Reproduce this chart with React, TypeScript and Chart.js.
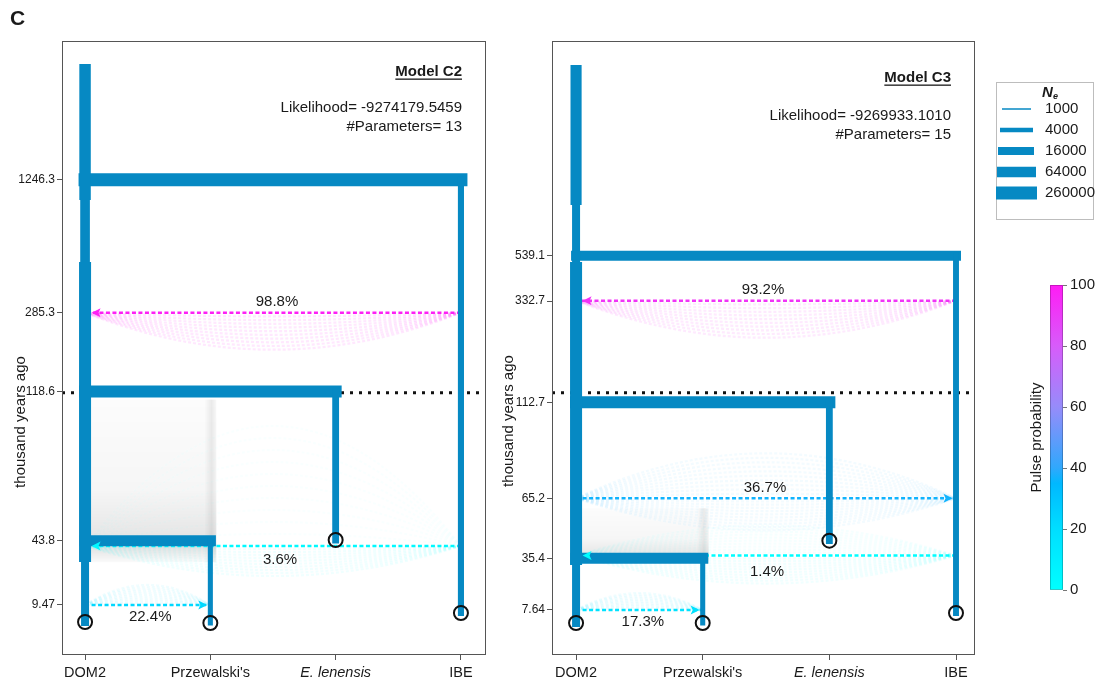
import React, { useEffect, useRef } from "react";
import { Chart, registerables } from "chart.js";
Chart.register(...registerables);

const FONT = "'Liberation Sans', Arial, Helvetica, sans-serif";
Chart.defaults.font.family = FONT;
const TREE_BLUE = "#0689c3";
const TEXT = "#1a1a1a";

// ---------------- shared data ----------------
const LINEAGES = ["DOM2", "Przewalski's", "E. lenensis", "IBE"];
const NE_LEGEND = [1000, 4000, 16000, 64000, 260000];
const PULSE_TICKS = [0, 20, 40, 60, 80, 100];

// ---------------- Model C2 ----------------
const C2_LIKELIHOOD = "-9274179.5459";
const C2_PARAMS = 13;
const C2_TIMES = [1246.3, 285.3, 118.6, 43.8, 9.47]; // thousand years ago (tick labels)
const C2_TIME_LEVELS = [77.4, 55.75, 42.9, 18.6, 8.15]; // schematic heights on the tree axis (0-100)
const C2_SPLIT_CHILD = [3, 2, 1]; // lineage that joins DOM2
const C2_SPLIT_TIME_IDX = [0, 2, 3];
const C2_SPLIT_NE = [260000, 150000, 90000];
const C2_TIP_LEVELS = [5.37, 5.21, 18.73, 6.84];
const C2_BRANCH_NE = [16000, 5000, 10000, 7500];
const C2_DOM2_EPOCH_LEVELS = [96.25, 74.1, 64.0, 15.15];
const C2_DOM2_EPOCH_NE = [110000, 40000, 150000, 16000];
const C2_PULSE_PCT = [98.8, 3.6, 22.4];
const C2_PULSE_FROM = [3, 3, 0];
const C2_PULSE_TO = [0, 0, 1];
const C2_PULSE_LEVELS = [55.75, 17.75, 8.15];
const C2_REF_LEVEL = 42.7;

// ---------------- Model C3 ----------------
const C3_LIKELIHOOD = "-9269933.1010";
const C3_PARAMS = 15;
const C3_TIMES = [539.1, 332.7, 112.7, 65.2, 35.4, 7.64];
const C3_TIME_LEVELS = [65.03, 57.65, 41.16, 25.52, 15.75, 7.33];
const C3_SPLIT_CHILD = [3, 2, 1];
const C3_SPLIT_TIME_IDX = [0, 2, 4];
const C3_SPLIT_NE = [48000, 150000, 90000];
const C3_TIP_LEVELS = [5.21, 5.21, 18.62, 6.84];
const C3_BRANCH_NE = [16000, 5000, 10000, 7000];
const C3_DOM2_EPOCH_LEVELS = [96.09, 73.29, 64.01, 14.66];
const C3_DOM2_EPOCH_NE = [90000, 16000, 150000, 16000];
const C3_PULSE_PCT = [93.2, 36.7, 1.4, 17.3];
const C3_PULSE_FROM = [3, 0, 3, 0];
const C3_PULSE_TO = [0, 3, 0, 1];
const C3_PULSE_LEVELS = [57.7, 25.52, 16.2, 7.33];
const C3_REF_LEVEL = 42.72;

// ---------------- styles ----------------
const NE_WIDTH = [1.5, 4.5, 8, 10.5, 13];
const CMAP_STOPS = [0, 20, 35, 40, 60, 80, 100];
const CMAP_RGB = [
  [0, 255, 255],
  [0, 222, 255],
  [0, 184, 255],
  [48, 168, 252],
  [150, 140, 250],
  [215, 92, 250],
  [255, 28, 245],
];

type Model = {
  name: string;
  likelihood: string;
  params: number;
  times: number[];
  timeLevels: number[];
  splitChild: number[];
  splitTimeIdx: number[];
  splitNe: number[];
  tipLevels: number[];
  branchNe: number[];
  domEpochLevels: number[];
  domEpochNe: number[];
  pulsePct: number[];
  pulseFrom: number[];
  pulseTo: number[];
  pulseLevels: number[];
  refLevel: number;
};

const C2: Model = {
  name: "Model C2",
  likelihood: C2_LIKELIHOOD,
  params: C2_PARAMS,
  times: C2_TIMES,
  timeLevels: C2_TIME_LEVELS,
  splitChild: C2_SPLIT_CHILD,
  splitTimeIdx: C2_SPLIT_TIME_IDX,
  splitNe: C2_SPLIT_NE,
  tipLevels: C2_TIP_LEVELS,
  branchNe: C2_BRANCH_NE,
  domEpochLevels: C2_DOM2_EPOCH_LEVELS,
  domEpochNe: C2_DOM2_EPOCH_NE,
  pulsePct: C2_PULSE_PCT,
  pulseFrom: C2_PULSE_FROM,
  pulseTo: C2_PULSE_TO,
  pulseLevels: C2_PULSE_LEVELS,
  refLevel: C2_REF_LEVEL,
};

const C3: Model = {
  name: "Model C3",
  likelihood: C3_LIKELIHOOD,
  params: C3_PARAMS,
  times: C3_TIMES,
  timeLevels: C3_TIME_LEVELS,
  splitChild: C3_SPLIT_CHILD,
  splitTimeIdx: C3_SPLIT_TIME_IDX,
  splitNe: C3_SPLIT_NE,
  tipLevels: C3_TIP_LEVELS,
  branchNe: C3_BRANCH_NE,
  domEpochLevels: C3_DOM2_EPOCH_LEVELS,
  domEpochNe: C3_DOM2_EPOCH_NE,
  pulsePct: C3_PULSE_PCT,
  pulseFrom: C3_PULSE_FROM,
  pulseTo: C3_PULSE_TO,
  pulseLevels: C3_PULSE_LEVELS,
  refLevel: C3_REF_LEVEL,
};

type PulseStyle = { dx: number; dy: number; up: number; down: number; alpha: number; upAlpha: number };
type ModelStyle = {
  xMin: number;
  xMax: number;
  padRight: number;
  header: number[];
  axisTitle: number[];
  shadow: { top: number; bottom: number };
  pulses: PulseStyle[];
  letter: boolean;
};

const C2_STYLE: ModelStyle = {
  xMin: -0.184,
  xMax: 3.2,
  padRight: 4,
  header: [31, 67, 86],
  axisTitle: [21, 422],
  shadow: { top: 41.6, bottom: 15.1 },
  pulses: [
    { dx: 4, dy: -11, up: 0, down: 37, alpha: 0.1, upAlpha: 0 },
    { dx: 7, dy: 14, up: 120, down: 30, alpha: 0.06, upAlpha: 0.025 },
    { dx: 2.5, dy: 12, up: 20, down: 0, alpha: 0.06, upAlpha: 0.06 },
  ],
  letter: true,
};

const C3_STYLE: ModelStyle = {
  xMin: -0.19,
  xMax: 3.15,
  padRight: 5,
  header: [37, 75, 93.5],
  axisTitle: [19, 421],
  shadow: { top: 23.9, bottom: 14.9 },
  pulses: [
    { dx: -3, dy: -11, up: 0, down: 37, alpha: 0.1, upAlpha: 0 },
    { dx: -1, dy: -10, up: 45, down: 32, alpha: 0.05, upAlpha: 0.05 },
    { dx: 1, dy: 16, up: 30, down: 28, alpha: 0.06, upAlpha: 0.04 },
    { dx: 3.5, dy: 12, up: 17, down: 0, alpha: 0.06, upAlpha: 0.06 },
  ],
  letter: false,
};

// ---------------- helpers ----------------
function neWidth(ne: number): number {
  const l = Math.log(ne);
  const ls = NE_LEGEND.map((v) => Math.log(v));
  if (l <= ls[0]) return NE_WIDTH[0];
  for (let i = 0; i < ls.length - 1; i++) {
    if (l <= ls[i + 1]) {
      return NE_WIDTH[i] + ((NE_WIDTH[i + 1] - NE_WIDTH[i]) * (l - ls[i])) / (ls[i + 1] - ls[i]);
    }
  }
  return NE_WIDTH[NE_WIDTH.length - 1];
}

function pulseRGB(p: number): number[] {
  for (let i = 0; i < CMAP_STOPS.length - 1; i++) {
    if (p <= CMAP_STOPS[i + 1]) {
      const t = (p - CMAP_STOPS[i]) / (CMAP_STOPS[i + 1] - CMAP_STOPS[i]);
      return CMAP_RGB[i].map((c, k) => Math.round(c + (CMAP_RGB[i + 1][k] - c) * t));
    }
  }
  return CMAP_RGB[CMAP_RGB.length - 1];
}
const rgba = (c: number[], a = 1) => `rgba(${c[0]},${c[1]},${c[2]},${a})`;

function lineageWidthAt(m: Model, lineage: number, level: number): number {
  if (lineage !== 0) return neWidth(m.branchNe[lineage]);
  let w = neWidth(m.domEpochNe[0]);
  m.domEpochLevels.forEach((top, k) => {
    if (level <= top) w = neWidth(m.domEpochNe[k]);
  });
  return w;
}

function seg(x1: number, y1: number, x2: number, y2: number, w: number, cap: string) {
  return {
    data: [
      { x: x1, y: y1 },
      { x: x2, y: y2 },
    ],
    borderColor: TREE_BLUE,
    backgroundColor: TREE_BLUE,
    borderWidth: w,
    borderCapStyle: cap,
    pointRadius: 0,
    pointHoverRadius: 0,
    order: 2,
  };
}

function buildModelConfig(m: Model, st: ModelStyle): any {
  const ds: any[] = [];
  // tips
  ds.push({
    data: m.tipLevels.map((l, i) => ({ x: i, y: l })),
    showLine: false,
    pointRadius: 7,
    pointHoverRadius: 7,
    pointBorderWidth: 2,
    pointBorderColor: "#111",
    pointBackgroundColor: "rgba(0,0,0,0)",
    order: 0,
  });
  // DOM2 epochs
  const nE = m.domEpochLevels.length;
  m.domEpochLevels.forEach((top, k) => {
    const bot = k + 1 < nE ? m.domEpochLevels[k + 1] : m.tipLevels[0];
    ds.push(seg(0, top, 0, bot, neWidth(m.domEpochNe[k]), k === nE - 1 ? "square" : "butt"));
  });
  // child branches + joins
  m.splitChild.forEach((c, j) => {
    const lvl = m.timeLevels[m.splitTimeIdx[j]];
    ds.push(seg(c, lvl, c, m.tipLevels[c], neWidth(m.branchNe[c]), "square"));
    ds.push(seg(0, lvl, c, lvl, neWidth(m.splitNe[j]), "square"));
  });
  // pulses
  m.pulsePct.forEach((p, i) => {
    ds.push({
      data: [
        { x: m.pulseFrom[i], y: m.pulseLevels[i] },
        { x: m.pulseTo[i], y: m.pulseLevels[i] },
      ],
      borderColor: rgba(pulseRGB(p)),
      borderWidth: 2.5,
      borderDash: [4, 2.5],
      pointRadius: 0,
      pointHoverRadius: 0,
      order: 3,
    });
  });
  // reference dotted line
  ds.push({
    data: [
      { x: st.xMin, y: m.refLevel },
      { x: st.xMax, y: m.refLevel },
    ],
    borderColor: "#111",
    borderWidth: 3,
    borderDash: [3, 6],
    pointRadius: 0,
    pointHoverRadius: 0,
    order: 4,
  });

  const fin = (v: number) => Number.isFinite(v);

  const decor = {
    id: "modelDecor",
    beforeDatasetsDraw(chart: any) {
      const { ctx, chartArea: ca } = chart;
      const x = chart.scales.x;
      const y = chart.scales.y;
      ctx.save();
      ctx.beginPath();
      ctx.rect(ca.left, ca.top, ca.width, ca.height);
      ctx.clip();
      // gray shadow between DOM2 and Przewalski's
      const sx0 = x.getPixelForValue(0) + 6;
      const sx1 = x.getPixelForValue(1) + 6;
      const sy0 = y.getPixelForValue(st.shadow.top);
      const sy1 = y.getPixelForValue(st.shadow.bottom);
      if ([sx0, sx1, sy0, sy1].every(fin)) {
        const g = ctx.createLinearGradient(0, sy0, 0, sy1);
        g.addColorStop(0, "rgba(0,0,0,0.012)");
        g.addColorStop(0.55, "rgba(0,0,0,0.035)");
        g.addColorStop(0.8, "rgba(0,0,0,0.09)");
        g.addColorStop(0.9, "rgba(0,0,0,0.12)");
        g.addColorStop(1, "rgba(0,0,0,0.02)");
        ctx.fillStyle = g;
        ctx.fillRect(sx0, sy0, sx1 - sx0, sy1 - sy0);
        const g2 = ctx.createLinearGradient(sx1 - 12, 0, sx1, 0);
        g2.addColorStop(0, "rgba(0,0,0,0)");
        g2.addColorStop(0.6, "rgba(0,0,0,0.07)");
        g2.addColorStop(1, "rgba(0,0,0,0.01)");
        ctx.fillStyle = g2;
        ctx.fillRect(sx1 - 12, sy0, 12, sy1 - sy0);
      }
      // uncertainty fans
      m.pulsePct.forEach((p, i) => {
        const ps = st.pulses[i];
        const c = pulseRGB(p);
        const xa = x.getPixelForValue(m.pulseFrom[i]);
        const xb = x.getPixelForValue(m.pulseTo[i]);
        const yy = y.getPixelForValue(m.pulseLevels[i]);
        ctx.lineWidth = 2.2;
        ctx.setLineDash([3, 2]);
        const N = 10;
        [
          [ps.down, 1, ps.alpha],
          [ps.up, -1, ps.upAlpha],
        ].forEach(([s, dir, a]) => {
          if (!s || !a) return;
          ctx.strokeStyle = rgba(c, a);
          for (let k = 1; k <= N; k++) {
            const sag = (s * k) / N;
            ctx.beginPath();
            ctx.moveTo(xa, yy);
            ctx.quadraticCurveTo((xa + xb) / 2, yy + dir * 2 * sag, xb, yy);
            ctx.stroke();
          }
        });
      });
      ctx.restore();
    },
    afterDatasetsDraw(chart: any) {
      const { ctx } = chart;
      const x = chart.scales.x;
      const y = chart.scales.y;
      ctx.save();
      m.pulsePct.forEach((p, i) => {
        const ps = st.pulses[i];
        const c = pulseRGB(p);
        const xa = x.getPixelForValue(m.pulseFrom[i]);
        const xb = x.getPixelForValue(m.pulseTo[i]);
        const yy = y.getPixelForValue(m.pulseLevels[i]);
        const dir = Math.sign(xb - xa);
        const hw = lineageWidthAt(m, m.pulseTo[i], m.pulseLevels[i]) / 2;
        const tip = xb - dir * (hw + 0.5);
        ctx.fillStyle = rgba(c);
        ctx.beginPath();
        ctx.moveTo(tip, yy);
        ctx.lineTo(tip - dir * 9, yy - 4.5);
        ctx.lineTo(tip - dir * 7, yy);
        ctx.lineTo(tip - dir * 9, yy + 4.5);
        ctx.closePath();
        ctx.fill();
        ctx.fillStyle = TEXT;
        ctx.font = `15px ${FONT}`;
        ctx.textAlign = "center";
        ctx.textBaseline = "middle";
        ctx.fillText(`${p}%`, (xa + xb) / 2 + ps.dx, yy + ps.dy);
      });
      ctx.restore();
    },
    afterDraw(chart: any) {
      const { ctx, chartArea: ca } = chart;
      ctx.save();
      ctx.strokeStyle = "#555";
      ctx.lineWidth = 1;
      ctx.setLineDash([]);
      ctx.strokeRect(ca.left + 0.5, ca.top + 0.5, ca.width - 1, ca.height - 1);
      // header
      const rx = ca.right - 24;
      ctx.fillStyle = TEXT;
      ctx.textAlign = "right";
      ctx.textBaseline = "middle";
      ctx.font = `bold 15px ${FONT}`;
      ctx.fillText(m.name, rx, ca.top + st.header[0]);
      const w = ctx.measureText(m.name).width;
      ctx.fillRect(rx - w, ca.top + st.header[0] + 6.5, w, 1.3);
      ctx.font = `15px ${FONT}`;
      ctx.fillText(`Likelihood= ${m.likelihood}`, rx, ca.top + st.header[1]);
      ctx.fillText(`#Parameters= ${m.params}`, rx, ca.top + st.header[2]);
      // axis title
      ctx.save();
      ctx.translate(st.axisTitle[0], st.axisTitle[1]);
      ctx.rotate(-Math.PI / 2);
      ctx.textAlign = "center";
      ctx.font = `15px ${FONT}`;
      ctx.fillText("thousand years ago", 0, 0);
      ctx.restore();
      if (st.letter) {
        ctx.textAlign = "left";
        ctx.font = `bold 21px ${FONT}`;
        ctx.fillText("C", 10, 19);
      }
      ctx.restore();
    },
  };

  const labelFor = (v: number) => {
    const i = m.timeLevels.indexOf(v);
    return i >= 0 ? String(m.times[i]) : "";
  };

  return {
    type: "line",
    data: { datasets: ds },
    options: {
      responsive: false,
      animation: false,
      events: [],
      layout: { autoPadding: false, padding: { left: 0, right: st.padRight, top: 41, bottom: 0 } },
      plugins: { legend: { display: false }, tooltip: { enabled: false } },
      scales: {
        x: {
          type: "linear",
          min: st.xMin,
          max: st.xMax,
          afterBuildTicks: (s: any) => {
            s.ticks = LINEAGES.map((_, i) => ({ value: i }));
          },
          afterFit: (s: any) => {
            s.height = 35;
          },
          ticks: {
            autoSkip: false,
            maxRotation: 0,
            padding: 4,
            color: TEXT,
            callback: (v: any) => LINEAGES[Math.round(v)] ?? "",
            font: (c: any) => ({
              family: FONT,
              size: 14.5,
              style: c.index === 2 ? "italic" : "normal",
            }),
          },
          grid: { display: true, drawOnChartArea: false, drawTicks: true, tickLength: 5, color: "#555" },
          border: { display: false },
        },
        y: {
          type: "linear",
          min: 0,
          max: 100,
          afterBuildTicks: (s: any) => {
            s.ticks = m.timeLevels.map((v) => ({ value: v }));
          },
          afterFit: (s: any) => {
            s.width = 62;
          },
          ticks: {
            autoSkip: false,
            padding: 2,
            color: TEXT,
            font: { family: FONT, size: 12 },
            callback: (v: any) => labelFor(v),
          },
          grid: { display: true, drawOnChartArea: false, drawTicks: true, tickLength: 5, color: "#555" },
          border: { display: false },
        },
      },
    },
    plugins: [decor],
  };
}

function ModelChart({ m, st, left }: { m: Model; st: ModelStyle; left: number }) {
  const ref = useRef<HTMLCanvasElement>(null);
  useEffect(() => {
    const chart = new Chart(ref.current as HTMLCanvasElement, buildModelConfig(m, st));
    return () => chart.destroy();
  }, []);
  return (
    <canvas
      ref={ref}
      width={490}
      height={690}
      style={{ position: "absolute", left, top: 0, width: 490, height: 690 }}
    />
  );
}

function ColorbarChart() {
  const ref = useRef<HTMLCanvasElement>(null);
  useEffect(() => {
    const legendPlugin = {
      id: "neLegend",
      afterDraw(chart: any) {
        const { ctx, chartArea: ca } = chart;
        ctx.save();
        // colorbar outline
        ctx.strokeStyle = "rgba(0,0,0,0.22)";
        ctx.lineWidth = 1;
        ctx.strokeRect(ca.left + 0.5, ca.top + 0.5, ca.width - 1, ca.height - 1);
        // title
        ctx.fillStyle = TEXT;
        ctx.save();
        ctx.translate(57, (ca.top + ca.bottom) / 2);
        ctx.rotate(-Math.PI / 2);
        ctx.textAlign = "center";
        ctx.textBaseline = "middle";
        ctx.font = `15px ${FONT}`;
        ctx.fillText("Pulse probability", 0, 0);
        ctx.restore();
        // Ne legend box
        const bx = 16;
        const by = 82;
        ctx.strokeStyle = "#bdbdbd";
        ctx.strokeRect(bx + 0.5, by + 0.5, 97, 137);
        ctx.fillStyle = TEXT;
        ctx.font = `italic bold 15px ${FONT}`;
        ctx.textAlign = "left";
        ctx.textBaseline = "middle";
        ctx.fillText("N", 62, by + 11);
        ctx.font = `italic bold 9px ${FONT}`;
        ctx.fillText("e", 73, by + 15);
        const rowsY = [109, 130, 151, 172, 193];
        const lx0 = [22, 20, 18, 17, 16];
        const lx1 = [51, 53, 54, 56, 57];
        NE_LEGEND.forEach((ne, i) => {
          ctx.strokeStyle = TREE_BLUE;
          ctx.lineWidth = neWidth(ne);
          ctx.beginPath();
          ctx.moveTo(lx0[i], rowsY[i]);
          ctx.lineTo(lx1[i], rowsY[i]);
          ctx.stroke();
          ctx.fillStyle = TEXT;
          ctx.font = `15px ${FONT}`;
          ctx.fillText(String(ne), 65, rowsY[i]);
        });
        ctx.restore();
      },
    };
    const chart = new Chart(ref.current as HTMLCanvasElement, {
      type: "bar",
      data: {
        labels: [""],
        datasets: [
          {
            data: [[0, 100]] as any,
            borderWidth: 0,
            barPercentage: 1,
            categoryPercentage: 1,
            backgroundColor: (c: any) => {
              const ch = c.chart;
              const ys = ch.scales && ch.scales.y;
              if (!ys) return rgba(CMAP_RGB[0]);
              const p0 = ys.getPixelForValue(0);
              const p1 = ys.getPixelForValue(100);
              if (!Number.isFinite(p0) || !Number.isFinite(p1) || p0 === p1) return rgba(CMAP_RGB[0]);
              const g = ch.ctx.createLinearGradient(0, p0, 0, p1);
              CMAP_STOPS.forEach((s, i) => g.addColorStop(s / 100, rgba(CMAP_RGB[i])));
              return g;
            },
          },
        ],
      },
      options: {
        responsive: false,
        animation: false,
        events: [],
        layout: { autoPadding: false, padding: { left: 70, right: 0, top: 285, bottom: 100 } },
        plugins: { legend: { display: false }, tooltip: { enabled: false } },
        scales: {
          x: { display: false },
          y: {
            position: "right",
            min: 0,
            max: 100,
            afterBuildTicks: (s: any) => {
              s.ticks = PULSE_TICKS.map((v) => ({ value: v }));
            },
            afterFit: (s: any) => {
              s.width = 48;
            },
            ticks: { color: TEXT, font: { family: FONT, size: 15 }, padding: 3 },
            grid: { display: true, drawOnChartArea: false, drawTicks: true, tickLength: 4, color: "#777" },
            border: { display: false },
          },
        },
      } as any,
      plugins: [legendPlugin],
    });
    return () => chart.destroy();
  }, []);
  return (
    <canvas
      ref={ref}
      width={131}
      height={690}
      style={{ position: "absolute", left: 980, top: 0, width: 131, height: 690 }}
    />
  );
}

export default function App() {
  return (
    <div
      style={{
        position: "absolute",
        left: 0,
        top: 0,
        width: 1111,
        height: 690,
        background: "#fff",
        overflow: "hidden",
      }}
    >
      <ModelChart m={C2} st={C2_STYLE} left={0} />
      <ModelChart m={C3} st={C3_STYLE} left={490} />
      <ColorbarChart />
    </div>
  );
}
